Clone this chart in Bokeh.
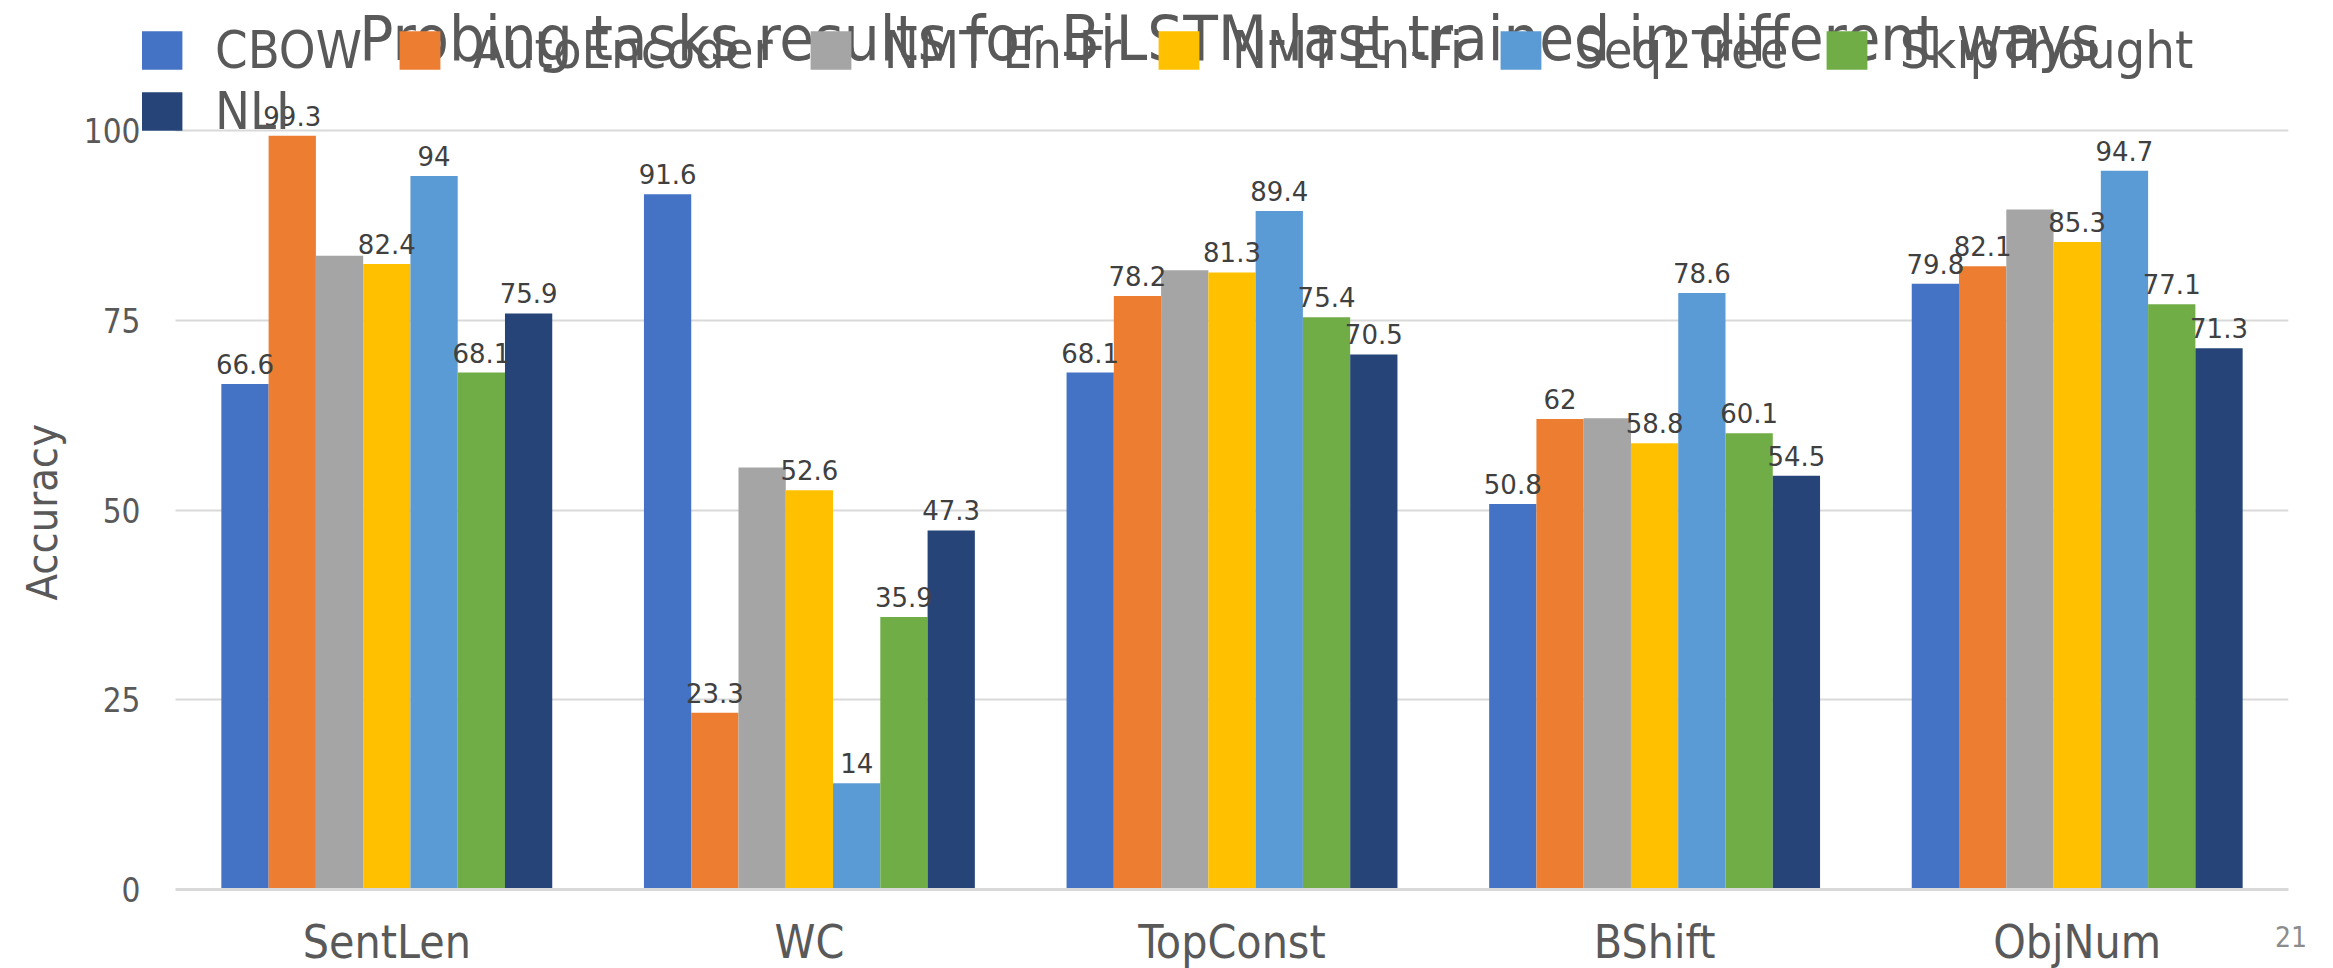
from bokeh.plotting import figure
from bokeh.models import (Range1d, ColumnDataSource, FixedTicker, Legend, Grid,
                          LegendItem, Label, LabelSet, Title)
from bokeh.core.properties import value
from bokeh.transform import dodge
from bokeh.embed import file_html
from bokeh.resources import INLINE

# ---------------- data ----------------
tasks = ["SentLen", "WC", "TopConst", "BShift", "ObjNum"]
series_names = ["CBOW", "AutoEncoder", "NMT En-Fr", "NMT En-Fi", "Seq2Tree", "SkipThought", "NLI"]
cbow = [66.6, 91.6, 68.1, 50.8, 79.8]
autoencoder = [99.3, 23.3, 78.2, 62.0, 82.1]
nmt_en_fr = [83.5, 55.6, 81.6, 62.1, 89.6]   # no data labels shown for this series
nmt_en_fi = [82.4, 52.6, 81.3, 58.8, 85.3]
seq2tree = [94.0, 14.0, 89.4, 78.6, 94.7]
skipthought = [68.1, 35.9, 75.4, 60.1, 77.1]
nli = [75.9, 47.3, 70.5, 54.5, 71.3]
series_values = [cbow, autoencoder, nmt_en_fr, nmt_en_fi, seq2tree, skipthought, nli]
series_labeled = [True, True, False, True, True, True, True]
y_ticks = [0, 25, 50, 75, 100]
title_text = "Probing tasks results for BiLSTM-last trained in different ways"
y_title = "Accuracy"
slide_number = "21"

colors = ["#4472C4", "#ED7D31", "#A5A5A5", "#FFC000", "#5B9BD5", "#70AD47", "#264478"]

COND = "'DejaVu Sans Condensed', 'Liberation Sans'"
TXT = "#595959"

# ---------------- layout (pixels) ----------------
CAT_PX = 422.6            # width of one category
PX_PER_UNIT = 7.59        # pixels per accuracy point
LEFT_PAD_PX = 33          # frame starts this far left of the first category
FRAME_W = 2146
FRAME_H = 889
n_cat = len(tasks)
x_start = -LEFT_PAD_PX / CAT_PX
y_top = FRAME_H / PX_PER_UNIT

p = figure(x_range=Range1d(x_start, n_cat), y_range=Range1d(0, y_top),
           frame_width=FRAME_W, frame_height=FRAME_H,
           min_border_left=139, min_border_right=48, min_border_top=0, min_border_bottom=60,
           output_backend="svg", toolbar_location=None)
p.title.visible = False
p.outline_line_color = None
p.background_fill_color = "white"
p.border_fill_color = "white"

# chart title (inside the frame so it is not clipped)
p.add_layout(Label(x=(1226.5 - 172) / CAT_PX, y=(FRAME_H - 38) / PX_PER_UNIT, text=title_text,
                   text_align="center", text_baseline="alphabetic",
                   text_font=COND, text_font_size="63px", text_color=TXT))

group = 0.783
bw = group / len(series_names)
pos = [i + 0.5 for i in range(n_cat)]
items = []
for i, (name, vals) in enumerate(zip(series_names, series_values)):
    off = (i - (len(series_names) - 1) / 2) * bw
    src = ColumnDataSource(dict(pos=pos, task=tasks, val=vals,
                                lbl=[(f"{v:g}" if series_labeled[i] else "") for v in vals]))
    r = p.vbar(x=dodge("pos", off), top="val", width=bw, source=src,
               fill_color=colors[i], line_color=None)
    items.append(LegendItem(label=name, renderers=[r]))
    if series_labeled[i]:
        p.add_layout(LabelSet(x=dodge("pos", off), y="val", text="lbl",
                              source=src, y_offset=10, text_align="center",
                              text_baseline="alphabetic", text_font=value("DejaVu Sans"),
                              text_font_size=value("26px"), text_color=value("#404040")))

legend_style = dict(orientation="horizontal", glyph_width=51, glyph_height=48,
                    label_standoff=28, spacing=32, padding=0, margin=0,
                    border_line_color=None, background_fill_alpha=0,
                    label_text_font=COND, label_text_font_size="52px",
                    label_text_color=TXT, label_text_baseline="middle")
legend_row1 = Legend(items=items[:6], location=(-6, 809), **legend_style)
legend_row2 = Legend(items=items[6:], location=(-6, 748), **legend_style)
p.add_layout(legend_row1)
p.add_layout(legend_row2)

# axes
p.yaxis.ticker = FixedTicker(ticks=y_ticks)
p.yaxis.axis_line_color = None
p.yaxis.major_tick_line_color = None
p.yaxis.major_tick_out = 0
p.yaxis.major_tick_in = 0
p.yaxis.minor_tick_line_color = None
p.yaxis.minor_tick_out = 0
p.yaxis.major_label_standoff = 2
p.yaxis.major_label_text_font = COND
p.yaxis.major_label_text_font_size = "33px"
p.yaxis.major_label_text_color = TXT

p.add_layout(Title(text=y_title, align="left", offset=289, standoff=28,
                   text_font=COND, text_font_size="43px", text_font_style="normal",
                   text_color=TXT), "left")

p.xaxis.ticker = FixedTicker(ticks=pos)
p.xaxis.major_label_overrides = {x: t for x, t in zip(pos, tasks)}
p.xaxis.bounds = (0, n_cat)
p.xaxis.axis_line_color = "#d9d9d9"
p.xaxis.axis_line_width = 3
p.xaxis.major_tick_line_color = None
p.xaxis.major_tick_out = 0
p.xaxis.major_tick_in = 0
p.xaxis.minor_tick_line_color = None
p.xaxis.minor_tick_out = 0
p.xaxis.major_label_standoff = 25
p.xaxis.major_label_text_font = COND
p.xaxis.major_label_text_font_size = "46px"
p.xaxis.major_label_text_color = TXT

p.xgrid.grid_line_color = None
p.ygrid.ticker = FixedTicker(ticks=y_ticks)
p.ygrid.grid_line_color = "#d9d9d9"
p.ygrid.grid_line_width = 2
if "cross_bounds" in Grid.properties():
    p.ygrid.cross_bounds = (0, n_cat)

# slide number, as a label-only legend in the right side panel (not clipped there)
dummy = p.scatter(x=[], y=[], size=1, fill_alpha=0, line_alpha=0)
legend_num = Legend(items=[LegendItem(label=slide_number, renderers=[dummy])],
                    location=(-13, -65), glyph_width=0, glyph_height=10, label_standoff=0,
                    padding=0, margin=0, spacing=0, border_line_color=None,
                    background_fill_alpha=0, label_text_font=COND,
                    label_text_font_size="28px", label_text_color="#8c8c8c",
                    label_text_baseline="middle")
p.add_layout(legend_num, "right")

open("out.html", "w").write(file_html(p, INLINE))
